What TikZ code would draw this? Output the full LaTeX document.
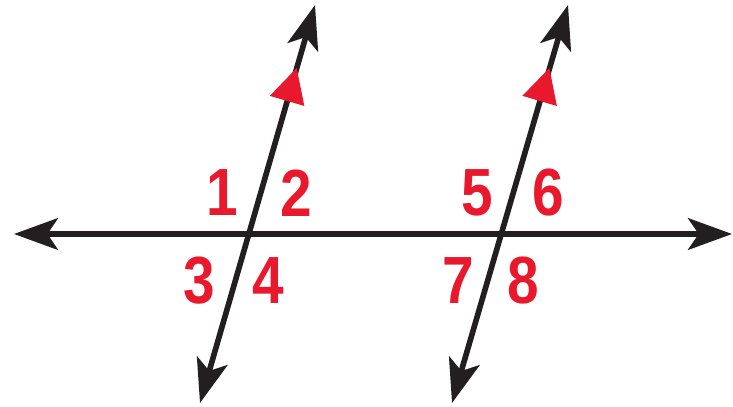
\documentclass[tikz,border=0pt]{standalone}
\usepackage{fontspec}
\setsansfont{Liberation Sans}
\usetikzlibrary{arrows.meta, calc}
\definecolor{inkblack}{HTML}{231F20}
\definecolor{markred}{HTML}{E8192C}

\begin{document}
\begin{tikzpicture}[
        x=0.02cm, y=-0.02cm,
        >={Stealth[length=25pt, width=18pt, inset=6pt]},
        line/.style={<->, draw=inkblack, line width=3.2pt},
        num/.style={text=markred, inner sep=0pt, xscale=0.85,
                    font=\sffamily\bfseries\fontsize{38}{38}\selectfont},
        parmark/.style={fill=markred}
    ]
    \useasboundingbox (0,0) rectangle (733,406);

    % end points and crossings
    \coordinate (left)  at (14,234);
    \coordinate (right) at (732,234);
    \coordinate (x1) at (248,235);
    \coordinate (t1) at (315,5);
    \coordinate (b1) at (200,403);
    \coordinate (x2) at (500,235);
    \coordinate (t2) at (568,5);
    \coordinate (b2) at (452,403);

    % lines
    \draw[line] (left) -- (right);
    \draw[line] (b1) -- (t1);
    \draw[line] (b2) -- (t2);

    % parallel marks
    \foreach \x/\t in {x1/t1, x2/t2} {
        \coordinate (apex) at ($(\x)!0.726!(\t)$);
        \coordinate (base) at ($(\x)!0.583!(\t)$);
        \fill[parmark] (apex) -- ($(base)!0.36cm!90:(\t)$)
                              -- ($(base)!0.36cm!-90:(\t)$) -- cycle;
    }

    % angle numbers
    \node[num] (n1) at (222,193) {1};
    \node[num] (n2) at (296,193) {2};
    \node[num] (n3) at (199,281) {3};
    \node[num] (n4) at (268,281) {4};
    \node[num] (n5) at (477,193) {5};
    \node[num] (n6) at (548,193) {6};
    \node[num] (n7) at (458,281) {7};
    \node[num] (n8) at (523,281) {8};
\end{tikzpicture}
\end{document}
